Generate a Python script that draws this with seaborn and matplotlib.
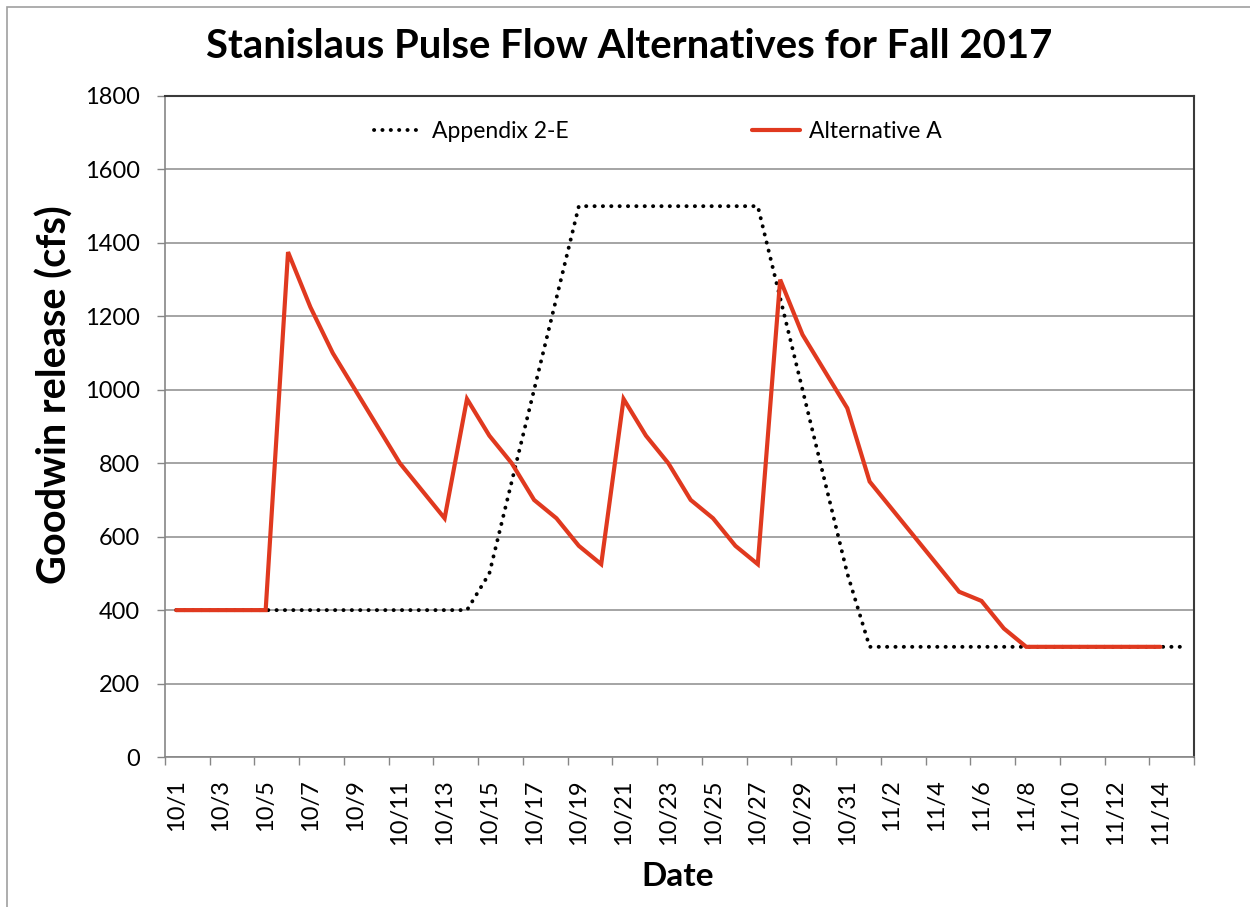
import numpy as np
import pandas as pd
import matplotlib
matplotlib.use("Agg")
import matplotlib.pyplot as plt
import seaborn as sns
from matplotlib.patches import Rectangle
from matplotlib.lines import Line2D
from matplotlib.ticker import FixedLocator

# dates 10/1 .. 11/15 (category axis)
dates = pd.date_range("2017-10-01", "2017-11-15", freq="D")
date_labels = [f"{d.month}/{d.day}" for d in dates]

# Appendix 2-E (cfs), one value per day
appendix_2e = [400] * 14 + [500, 750, 1000, 1250] + [1500] * 9 + [1250, 1000, 750, 500] + [300] * 15

# Alternative A (cfs), ends on 11/14
alternative_a = ([400] * 5
                 + [1375, 1225, 1100, 1000, 900, 800, 725, 650,
                    975, 875, 800, 700, 650, 575, 525,
                    975, 875, 800, 700, 650, 575, 525,
                    1300, 1150, 1050, 950, 750, 675, 600, 525, 450, 425, 350]
                 + [300] * 7 + [np.nan])

series_names = ["Appendix 2-E", "Alternative A"]
colors = {"Appendix 2-E": "#000000", "Alternative A": "#E0391F"}
DOTS = (0, (0.05, 2.1))

df = pd.DataFrame({
    "idx": list(range(len(dates))) * 2,
    "cfs": appendix_2e + alternative_a,
    "series": [series_names[0]] * len(dates) + [series_names[1]] * len(dates),
})

sns.set_style("white")
plt.rcParams["font.family"] = ["Lato", "DejaVu Sans"]
plt.rcParams["text.color"] = "black"
plt.rcParams["axes.labelcolor"] = "black"
plt.rcParams["xtick.color"] = "black"
plt.rcParams["ytick.color"] = "black"

W, H = 1250, 907
fig = plt.figure(figsize=(W / 100, H / 100), dpi=100)
ax = fig.add_axes([165 / W, 1 - 757 / H, (1194 - 165) / W, (757 - 96) / H])

sns.lineplot(data=df, x="idx", y="cfs", hue="series", hue_order=series_names,
             palette=colors, ax=ax, linewidth=3, legend=False)

lines = ax.get_lines()
# dotted line for Appendix 2-E
lines[0].set_linestyle(DOTS)
lines[0].set_linewidth(2.8)
lines[0].set_dash_capstyle("round")
lines[0].set_zorder(2)
lines[1].set_zorder(3)
lines[1].set_solid_joinstyle("miter")

ax.set_xlim(-0.5, len(dates) - 0.5)
ax.set_ylim(0, 1800)
ax.set_yticks(np.arange(0, 1801, 200))
ax.yaxis.grid(True, color="#8c8c8c", linewidth=1.1)
ax.set_axisbelow(True)

# labels every 2nd day, tick marks on category boundaries
label_pos = list(range(0, len(dates), 2))
ax.xaxis.set_major_locator(FixedLocator(label_pos))
ax.set_xticklabels([date_labels[i] for i in label_pos], rotation=90, fontsize=17)
ax.xaxis.set_minor_locator(FixedLocator(np.arange(-0.5, len(dates), 2)))
ax.tick_params(axis="x", which="major", length=0, pad=16)
ax.tick_params(axis="x", which="minor", length=6, width=1, color="#868686", direction="out", bottom=True)
ax.tick_params(axis="y", length=6, width=1, color="#868686", direction="out", left=True, pad=12, labelsize=17)

for side in ["left", "bottom"]:
    ax.spines[side].set_color("#868686")
    ax.spines[side].set_linewidth(1.2)
for side in ["top", "right"]:
    ax.spines[side].set_color("#3a3a3a")
    ax.spines[side].set_linewidth(1.5)

ax.set_xlabel("Date", fontsize=24, fontweight="bold")
ax.xaxis.set_label_coords((678 - 165) / 1029, (757 - 876) / 661)
ax.xaxis.label.set_va("center")
ax.set_ylabel("Goodwin release (cfs)", fontsize=28.5, fontweight="bold")
ax.yaxis.set_label_coords((55 - 165) / 1029, (757 - 395) / 661)
ax.yaxis.label.set_va("center")

# legend
handles = [
    Line2D([], [], color=colors["Appendix 2-E"], linewidth=2.8, linestyle=DOTS, dash_capstyle="round"),
    Line2D([], [], color=colors["Alternative A"], linewidth=3),
]
ax.legend(handles, series_names, loc="center", bbox_to_anchor=((658 - 165) / 1029, 1 - 36 / 661),
          ncol=2, frameon=False, fontsize=16.5, handlelength=2.1, handletextpad=0.4,
          columnspacing=8.0)

fig.text(629 / W, 1 - 47 / H, "Stanislaus Pulse Flow Alternatives for Fall 2017",
         ha="center", va="center", fontsize=28.8, fontweight="bold")

# outer chart frame
fig.patches.append(Rectangle((7 / W, -0.01), 1.02, 1 - 7 / H + 0.01, transform=fig.transFigure,
                             fill=False, edgecolor="#a0a0a0", linewidth=1.2))

fig.savefig("out.png", dpi=100, facecolor="white")
